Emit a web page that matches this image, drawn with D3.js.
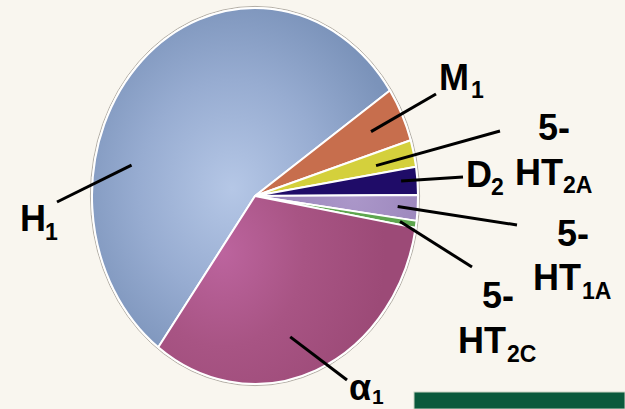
<!DOCTYPE html>
<html><head><meta charset="utf-8">
<script src="https://cdn.jsdelivr.net/npm/d3@7"></script>
<style>
body{margin:0;background:#f9f6ef;overflow:hidden}
svg{display:block}
text{font-family:"Liberation Sans",Arial,sans-serif;font-weight:bold;fill:#000}
</style></head><body>
<script>
// ---- data ----
const receptors = ["H1","M1","5-HT2A","D2","5-HT1A","5-HT2C","α1"];
const shares    = [55.4, 4.7, 2.3, 2.4, 2.2, 0.6, 32.4];
const sliceColors = ["#8fa6cc","#c76e4d","#d4d03c","#1f0c68","#a38dc2","#5ea64f","#aa5686"];
// label pieces: main text, subscript text
const labelMain = [["H"],["M"],["5-","HT"],["D"],["5-","HT"],["5-","HT"],["α"]];
const labelSub  = ["1","1","2A","2","1A","2C","1"];

// ---- layout ----
const W = 625, H = 409;
const cx = 255, cy = 196, rx = 163, ry = 188, R = 100;
const startDeg = -143.6;

const svg = d3.select("body").append("svg").attr("width", W).attr("height", H);
svg.append("rect").attr("width", W).attr("height", H).attr("fill", "#f9f6ef");

const defs = svg.append("defs");
function radial(id, fx, fy, r, stops){
  const g = defs.append("radialGradient").attr("id", id).attr("gradientUnits","userSpaceOnUse")
    .attr("cx", fx).attr("cy", fy).attr("r", r);
  stops.forEach(s => g.append("stop").attr("offset", s[0]).attr("stop-color", s[1]));
}
radial("gH1", -14, -4, 105, [[0,"#b5c7e6"],[0.55,"#97acd1"],[1,"#7b93ba"]]);
radial("gA1", -20, 30, 100, [[0,"#bc649e"],[0.5,"#a85484"],[1,"#9c4a77"]]);
radial("gLav", 60, 0, 50, [[0,"#ab97c9"],[1,"#9a85bb"]]);
const fills = sliceColors.map((c,i) => i===0 ? "url(#gH1)" : i===6 ? "url(#gA1)" : i===4 ? "url(#gLav)" : c);

const pie = d3.pie().sort(null).value(d => d)
  .startAngle(startDeg*Math.PI/180).endAngle(startDeg*Math.PI/180 + 2*Math.PI);
const arcs = pie(shares);
const arc = d3.arc().innerRadius(0).outerRadius(R);

// outer gray rim
svg.append("ellipse").attr("cx", cx).attr("cy", cy).attr("rx", rx+1.6).attr("ry", ry+1.6)
  .attr("fill","none").attr("stroke","#b3aea6").attr("stroke-width",1);

const g = svg.append("g").attr("transform", `translate(${cx},${cy}) scale(${rx/R},${ry/R})`);
g.selectAll("path").data(arcs).join("path")
  .attr("d", arc)
  .attr("fill", (d,i) => fills[i])
  .attr("stroke", "#ffffff").attr("stroke-width", 2)
  .attr("stroke-linejoin","round")
  .attr("vector-effect","non-scaling-stroke");

// leader lines: position within slice (t), radial fraction (rf), outer end point
const leaders = [
  {t:0.33, rf:0.775, x2:57,  y2:202},
  {t:0.5,  rf:0.79,  x2:436, y2:94},
  {t:0.6,  rf:0.76,  x2:500, y2:131},
  {t:0.45, rf:0.90,  x2:463, y2:177},
  {t:0.5,  rf:0.877, x2:517, y2:225},
  {t:0.5,  rf:0.90,  x2:472, y2:267},
  {t:0.55, rf:0.78,  x2:347, y2:380}
];
arcs.forEach((a,i) => {
  const L = leaders[i];
  const ang = a.startAngle + (a.endAngle - a.startAngle)*L.t;
  const x1 = cx + rx*L.rf*Math.sin(ang), y1 = cy - ry*L.rf*Math.cos(ang);
  svg.append("line").attr("x1",x1).attr("y1",y1).attr("x2",L.x2).attr("y2",L.y2)
    .attr("stroke","#000").attr("stroke-width",3);
});

// label positions: each main line [x, baseline], subscript [x, baseline]
const labelPos = [
  {main:[[20,231]],            sub:[45,240]},
  {main:[[439,90]],            sub:[471,98]},
  {main:[[538,140],[515,185]], sub:[563,193]},
  {main:[[466,187]],           sub:[491,195]},
  {main:[[557,246],[533,290]], sub:[582,299]},
  {main:[[482,308],[458,353]], sub:[507,362]},
  {main:[[349,400]],           sub:[372,404]}
];
const mainSize = 36, subSize = 23;
labelMain.forEach((lines,i) => {
  lines.forEach((txt,j) => {
    const p = labelPos[i].main[j];
    svg.append("text").attr("x",p[0]).attr("y",p[1])
      .attr("font-size", mainSize).text(txt);
  });
  const s = labelPos[i].sub;
  svg.append("text").attr("x", s[0]).attr("y", s[1])
    .attr("font-size", i === 6 ? 21 : subSize).text(labelSub[i]);
});

// partial green banner at bottom right
svg.append("rect").attr("x",414).attr("y",392).attr("width",W-414).attr("height",H-392)
  .attr("fill","#0a5a3c").attr("stroke","#c9d3c4").attr("stroke-width",1);
</script>
</body></html>
